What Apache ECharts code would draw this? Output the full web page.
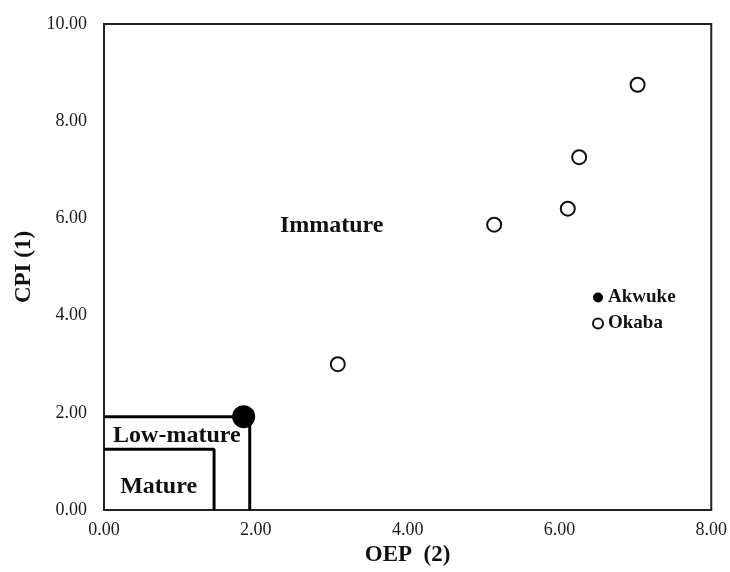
<!DOCTYPE html>
<html>
<head>
<meta charset="utf-8">
<script src="https://cdn.jsdelivr.net/npm/echarts@6/dist/echarts.min.js"></script>
<style>
  html, body { margin: 0; padding: 0; background: #fff; }
  #chart { width: 730px; height: 572px; }
</style>
</head>
<body>
<div id="chart"></div>
<script>
// sample points: [OEP, CPI]
var akwuke = [[1.84, 1.92]];
var okaba = [[3.08, 3.0], [5.14, 5.87], [6.11, 6.2], [6.26, 7.26], [7.03, 8.75]];

// maturity field boundaries
var lowMatureLine = [[0, 1.92], [1.92, 1.92], [1.92, 0]];
var matureLine = [[0, 1.25], [1.45, 1.25], [1.45, 0]];

// zone names, placed at data coords
var zoneLabels = [[3.0, 5.84, 'Immature'], [0.96, 1.52, 'Low-mature'], [0.72, 0.47, 'Mature']];

var xTicks = [0, 2, 4, 6, 8];
var yTicks = [0, 2, 4, 6, 8, 10];

var serif = '"Liberation Serif", "Times New Roman", serif';

var chart = echarts.init(document.getElementById('chart'));

var option = {
  animation: false,
  backgroundColor: '#fff',
  grid: {
    left: 104,
    right: 18,
    top: 24,
    bottom: 59,
    show: true,
    borderColor: '#222',
    borderWidth: 2,
    backgroundColor: 'transparent'
  },
  legend: {
    orient: 'vertical',
    left: 587,
    top: 283,
    itemWidth: 10,
    itemHeight: 10,
    itemGap: 7,
    icon: 'circle',
    textStyle: { fontFamily: serif, fontWeight: 'bold', fontSize: 19, color: '#111' },
    data: ['Akwuke', 'Okaba']
  },
  xAxis: {
    type: 'value',
    min: xTicks[0],
    max: xTicks[xTicks.length - 1],
    interval: 2,
    name: 'OEP  (2)',
    nameLocation: 'middle',
    nameGap: 34,
    nameTextStyle: { fontFamily: serif, fontWeight: 'bold', fontSize: 23, color: '#111' },
    axisLine: { show: false },
    axisTick: { show: false },
    splitLine: { show: false },
    axisLabel: {
      margin: 11,
      fontFamily: serif,
      fontSize: 18,
      color: '#1a1a1a',
      formatter: function (v) { return v.toFixed(2); }
    }
  },
  yAxis: {
    type: 'value',
    min: yTicks[0],
    max: yTicks[yTicks.length - 1],
    interval: 2,
    name: 'CPI (1)',
    nameLocation: 'middle',
    nameGap: 68,
    nameTextStyle: { fontFamily: serif, fontWeight: 'bold', fontSize: 23, color: '#111' },
    axisLine: { show: false },
    axisTick: { show: false },
    splitLine: { show: false },
    axisLabel: {
      margin: 17,
      fontFamily: serif,
      fontSize: 18,
      color: '#1a1a1a',
      formatter: function (v) { return v.toFixed(2); }
    }
  },
  series: [
    {
      name: 'lowMatureBoundary',
      type: 'line',
      data: lowMatureLine,
      symbol: 'none',
      lineStyle: { color: '#000', width: 3 },
      z: 3
    },
    {
      name: 'matureBoundary',
      type: 'line',
      data: matureLine,
      symbol: 'none',
      lineStyle: { color: '#000', width: 3 },
      z: 3
    },
    {
      name: 'zones',
      type: 'scatter',
      data: zoneLabels,
      symbolSize: 0,
      silent: true,
      itemStyle: { opacity: 1 },
      label: {
        show: true,
        position: 'inside',
        formatter: function (p) { return p.data[2]; },
        fontFamily: serif,
        fontWeight: 'bold',
        fontSize: 24,
        color: '#111'
      }
    },
    {
      name: 'Akwuke',
      type: 'scatter',
      data: akwuke,
      symbol: 'circle',
      symbolSize: 23,
      itemStyle: { color: '#000', opacity: 1 },
      z: 5
    },
    {
      name: 'Okaba',
      type: 'scatter',
      data: okaba,
      symbol: 'circle',
      symbolSize: 14,
      itemStyle: { color: '#fff', borderColor: '#111', borderWidth: 2, opacity: 1 },
      z: 5
    }
  ]
};

chart.setOption(option);
</script>
</body>
</html>
